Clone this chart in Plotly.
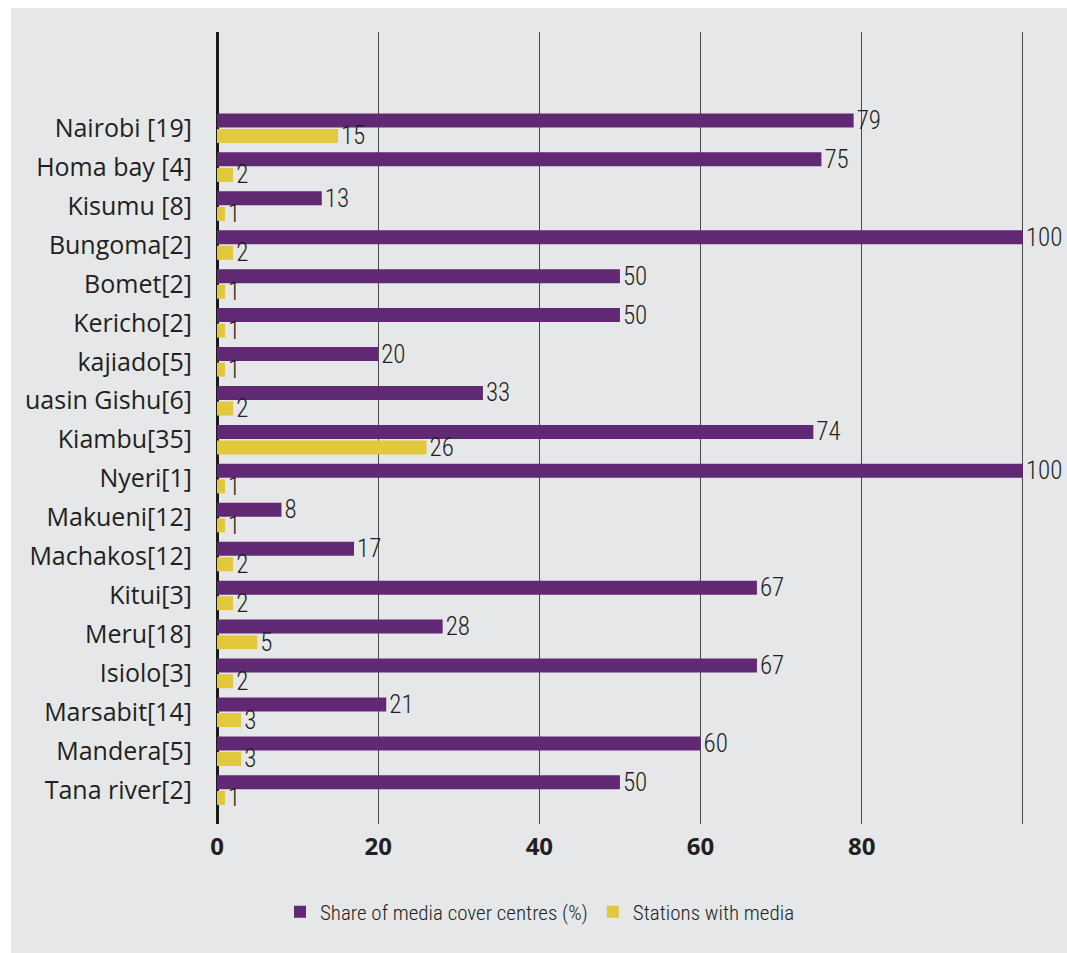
import plotly.graph_objects as go

categories = ["Nairobi [19]", "Homa bay [4]", "Kisumu [8]", "Bungoma[2]", "Bomet[2]",
              "Kericho[2]", "kajiado[5]", "uasin Gishu[6]", "Kiambu[35]", "Nyeri[1]",
              "Makueni[12]", "Machakos[12]", "Kitui[3]", "Meru[18]", "Isiolo[3]",
              "Marsabit[14]", "Mandera[5]", "Tana river[2]"]
share_pct = [79, 75, 13, 100, 50, 50, 20, 33, 74, 100, 8, 17, 67, 28, 67, 21, 60, 50]
stations = [15, 2, 1, 2, 1, 1, 1, 2, 26, 1, 1, 2, 2, 5, 2, 3, 3, 1]
x_ticks = [0, 20, 40, 60, 80, 100]
x_tick_text = ["0", "20", "40", "60", "80", ""]

PURPLE = "#612873"
YELLOW = "#e1c83c"
BG = "#e6e7e9"
TXT = "#231f20"
COND = "Liberation Sans Narrow, Roboto Condensed, DejaVu Sans Condensed, Arial Narrow, sans-serif"

W, H = 1067, 953
ML, MR, MT, MB = 217, 28, 32, 129
PW = W - ML - MR
PH = H - MT - MB

fig = go.Figure()
fig.add_trace(go.Bar(
    y=categories, x=share_pct, orientation="h", name="Share of media cover centres (%)",
    marker=dict(color=PURPLE, line=dict(width=0)),
    text=[str(v) for v in share_pct], textposition="outside", cliponaxis=False,
    constraintext="none", textfont=dict(family=COND, size=25, color=TXT, weight=300),
))
fig.add_trace(go.Bar(
    y=categories, x=stations, orientation="h", name="Stations with media",
    marker=dict(color=YELLOW, line=dict(width=0)),
    text=[str(v) for v in stations], textposition="outside", cliponaxis=False,
    constraintext="none", textfont=dict(family=COND, size=25, color=TXT, weight=300),
))

def px_to_paper_x(px):
    return (px - ML) / PW

def px_to_paper_y(py):
    return (H - MB - py) / PH

fig.add_shape(type="rect", xref="paper", yref="paper",
              x0=px_to_paper_x(11), x1=px_to_paper_x(W + 5),
              y0=px_to_paper_y(H + 5), y1=px_to_paper_y(8),
              fillcolor=BG, line=dict(width=0), layer="below")

fig.update_layout(
    width=W, height=H,
    margin=dict(l=ML, r=MR, t=MT, b=MB, pad=0),
    paper_bgcolor="white", plot_bgcolor=BG,
    barmode="group", bargap=0.2, bargroupgap=0.1,
    showlegend=True,
    legend=dict(orientation="h", x=px_to_paper_x(540), xanchor="center",
                y=px_to_paper_y(912), yanchor="middle",
                font=dict(family=COND, size=21, color=TXT, weight=300),
                bgcolor="rgba(0,0,0,0)", itemwidth=30, traceorder="normal"),
    xaxis=dict(range=[0, 102], tickvals=x_ticks, ticktext=x_tick_text,
               showgrid=True, gridcolor="#4a4a4a", gridwidth=1.2,
               zeroline=True, zerolinecolor="#1a1a1a", zerolinewidth=3,
               showline=False, ticks="", ticklabelstandoff=6,
               tickfont=dict(family="Open Sans", size=24, color=TXT, weight="bold")),
    yaxis=dict(type="category", range=[17.87, -2.47], showgrid=False, zeroline=False,
               showline=False, ticks="", ticklabelstandoff=24,
               tickfont=dict(family="Open Sans", size=25, color=TXT)),
)

fig.write_html("out.html")
